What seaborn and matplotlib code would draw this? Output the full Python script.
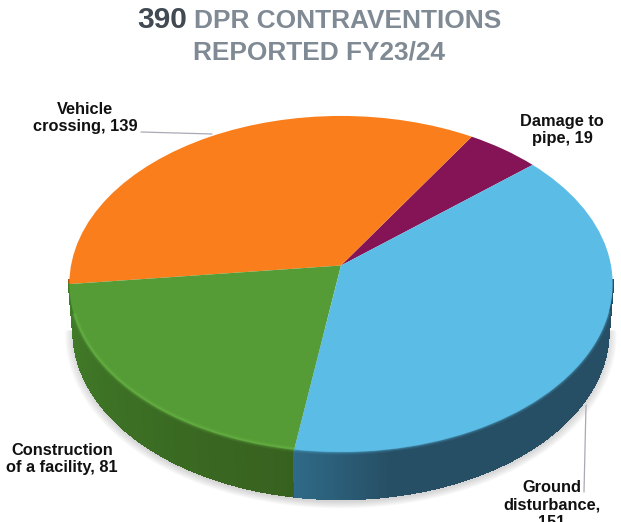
import numpy as np
import matplotlib
matplotlib.use('Agg')
import matplotlib.pyplot as plt
from matplotlib.collections import PolyCollection
from matplotlib.colors import to_rgb
from matplotlib.transforms import Transform
import seaborn as sns

# Chart data
categories = ['Damage to\npipe, 19', 'Vehicle\ncrossing, 139', 'Construction\nof a facility, 81', 'Ground\ndisturbance,\n151']
values = [19, 139, 81, 151]
top_colors = ['#841455', '#FA7F1C', '#569C36', '#5BBCE6']
side_light = ['#5c0e3b', '#a85510', '#417D29', '#2F6A88']
side_dark = ['#5c0e3b', '#a85510', '#37611F', '#264E64']
rim_colors = ['#841455', '#FA7F1C', '#6DBB4A', '#5BBCE6']
title_total = '390'
title_line1 = 'DPR CONTRAVENTIONS'
title_line2 = 'REPORTED FY23/24'

# Pie geometry in picture pixels
CX, CY = 341, 265.5
TILT = 0.11
SX, SY = 270, 166
DEPTH = 47
START = 40.5


class PiePerspective(Transform):
    # maps the unit circle of ax.pie onto the tilted disc
    input_dims = 2
    output_dims = 2
    has_inverse = False

    def transform_non_affine(self, xy):
        xy = np.asarray(xy, dtype=float)
        w = 1 + TILT * xy[:, 1]
        return np.column_stack([CX + SX * xy[:, 0] / w, CY - SY * xy[:, 1] / w])

    def transform_path_non_affine(self, path):
        # straight control polygon is fine for short arcs
        return type(path)(self.transform_non_affine(path.vertices), path.codes)


def rim(thetas, radius=1.0):
    rad = np.radians(thetas)
    pts = np.column_stack([radius * np.cos(rad), radius * np.sin(rad)])
    return PiePerspective().transform_non_affine(pts)


def lower_rim(top):
    low = top.copy()
    low[:, 0] = CX + (low[:, 0] - CX) * 0.985
    low[:, 1] += DEPTH
    return low


sns.set_theme(style='white')
plt.rcParams['font.family'] = ['Liberation Sans', 'DejaVu Sans']

fig = plt.figure(figsize=(6.21, 5.22), dpi=100)
ax = fig.add_axes([0, 0, 1, 1])

wedges, _ = ax.pie(values, colors=top_colors, startangle=START, counterclock=True,
                   wedgeprops={'linewidth': 0, 'edgecolor': 'none'})
ax.set_aspect('auto')
ax.set_xlim(0, 621)
ax.set_ylim(522, 0)
ax.axis('off')

persp = PiePerspective()
for w in wedges:
    w.set_transform(persp + ax.transData)
    w.set_zorder(3)

# Soft shadow under the disc
angles = np.linspace(185, 355, 171)
for grow in np.linspace(1.03, 1.0, 8):
    ring = lower_rim(rim(angles, grow))
    ring[:, 1] += 3
    ax.fill(ring[:, 0], ring[:, 1], color='#555555', alpha=0.03, lw=0, zorder=1)

# Side wall, one thin quad per step, colours shade along the slice
for i, w in enumerate(wedges):
    th = np.arange(w.theta1, w.theta2 + 0.5, 0.5)
    # only the front part of the wall can be seen
    th = th[np.sin(np.radians(th)) < -0.08]
    if len(th) < 2:
        continue
    top = rim(th)
    low = lower_rim(top)
    quads = [np.vstack([top[j], top[j + 1], low[j + 1], low[j]]) for j in range(len(th) - 1)]
    if categories[i].startswith('Construction'):
        mix = np.linspace(0, 1, len(quads))
    else:
        mix = np.clip(np.linspace(0, 1, len(quads)) * 5, 0, 1)
    cols = [(1 - m) * np.array(to_rgb(side_light[i])) + m * np.array(to_rgb(side_dark[i])) for m in mix]
    ax.add_collection(PolyCollection(quads, facecolors=cols, edgecolors=cols, linewidths=1.0,
                                     antialiaseds=False, zorder=2))

    # Bevel highlight along the front edge
    front = th[(th % 360 > 196) & (th % 360 < 345)]
    if len(front) > 1:
        edge = rim(front, 0.998)
        for lw, a in [(4.5, 0.10), (2.8, 0.18), (1.4, 0.35)]:
            ax.plot(edge[:, 0], edge[:, 1], color=rim_colors[i], lw=lw, alpha=a, zorder=4,
                    solid_capstyle='butt')

# Leader lines
ax.plot([141, 212], [132, 134], color='#A9AAB5', lw=0.9, zorder=5)
ax.plot([586, 584], [405, 492], color='#A9AAB5', lw=0.9, zorder=5)

# Title, two colours on the first line
ax.text(137, 20, title_total, fontsize=21.5, fontweight='bold', color='#414A52', ha='left', va='center')
ax.text(194, 21, title_line1, fontsize=18.9, fontweight='bold', color='#808A94', ha='left', va='center')
ax.text(319, 53, title_line2, fontsize=18.9, fontweight='bold', color='#808A94', ha='center', va='center')

# Slice labels
label_pos = [(562, 130), (85, 118), (62, 459), (552, 505)]
for text, (x, y) in zip(categories, label_pos):
    ax.text(x, y, text, fontsize=11.8, fontweight='bold', color='#111111', ha='center', va='center',
            linespacing=1.2, zorder=6)

fig.savefig('out.png', dpi=100)
